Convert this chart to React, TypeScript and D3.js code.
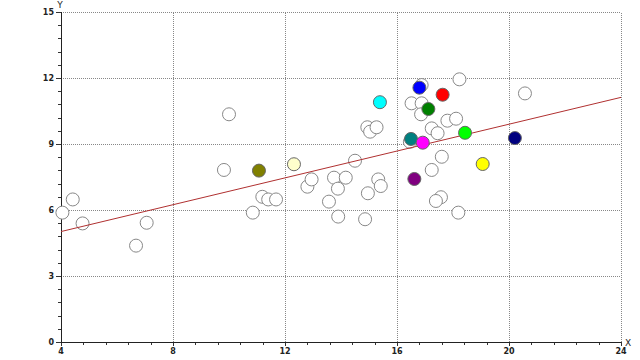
import React from "react";
import * as d3 from "d3";

const whiteX = [4.05, 4.42, 4.77, 6.68, 7.06, 9.82, 10.0, 10.85, 11.19, 11.4, 11.68, 12.8, 12.95, 13.57, 13.75, 13.89, 13.9, 14.17, 14.5, 14.86, 14.96, 14.94, 15.04, 15.27, 15.33, 15.42, 16.46, 16.52, 16.88, 16.86, 16.88, 17.24, 17.45, 17.8, 18.11, 18.23, 17.6, 17.24, 17.57, 17.39, 18.19, 20.57];
const whiteY = [5.88, 6.48, 5.39, 4.38, 5.42, 7.82, 10.35, 5.88, 6.6, 6.48, 6.48, 7.06, 7.39, 6.38, 7.47, 6.97, 5.7, 7.47, 8.24, 5.58, 6.76, 9.76, 9.56, 9.76, 7.39, 7.09, 9.1, 10.85, 10.85, 10.35, 11.68, 9.71, 9.49, 10.06, 10.15, 11.94, 8.42, 7.82, 6.58, 6.41, 5.88, 11.3];

const colorX = [16.8, 17.63, 17.12, 18.43, 16.5, 16.92, 16.62, 19.06, 20.21, 15.39, 11.07, 12.32];
const colorY = [11.56, 11.24, 10.59, 9.51, 9.23, 9.06, 7.41, 8.09, 9.27, 10.9, 7.79, 8.08];
const colorFill = ["#0000ff", "#ff0000", "#008000", "#00ff00", "#008080", "#ff00ff", "#800080", "#ffff00", "#000080", "#00ffff", "#808000", "#ffffcc"];

const xTicks = [4, 8, 12, 16, 20, 24];
const yTicks = [0, 3, 6, 9, 12, 15];
const fitIntercept = 3.80;
const fitSlope = 0.305;

export default function App() {
  const W = 640, H = 360;
  const x = d3.scaleLinear().domain([4, 24]).range([61, 621]);
  const y = d3.scaleLinear().domain([0, 15]).range([342, 12]);
  const xMinor: number[] = [];
  for (let i = 0; i <= 25; i++) xMinor.push(4 + i * 0.8);
  const yMinor: number[] = [];
  for (let i = 0; i <= 25; i++) yMinor.push(i * 0.6);
  const font = "'DejaVu Sans', Verdana, sans-serif";
  const line = d3.line<number>().x((d) => x(d)).y((d) => y(fitIntercept + fitSlope * d));
  const r = 6.5;
  return (
    <svg width={W} height={H} style={{ position: "fixed", left: 0, top: 0, background: "#fff" }}>
      {xTicks.filter((t) => t > 4).map((t) => (
        <line key={"gx" + t} x1={x(t) + 0.5} x2={x(t) + 0.5} y1={y(0)} y2={y(15)} stroke="#888" strokeDasharray="1,1" shapeRendering="crispEdges" />
      ))}
      {yTicks.filter((t) => t > 0).map((t) => (
        <line key={"gy" + t} x1={x(4)} x2={x(24)} y1={y(t) + 0.5} y2={y(t) + 0.5} stroke="#888" strokeDasharray="1,1" shapeRendering="crispEdges" />
      ))}
      {xMinor.map((t, i) => (
        <line key={"mx" + i} x1={x(t) + 0.5} x2={x(t) + 0.5} y1={y(0)} y2={y(0) + (i % 5 === 0 ? 4 : 3)} stroke="#333" shapeRendering="crispEdges" />
      ))}
      {yMinor.map((t, i) => (
        <line key={"my" + i} x1={x(4) - (i % 5 === 0 ? 5 : 3)} x2={x(4)} y1={y(t) + 0.5} y2={y(t) + 0.5} stroke="#333" shapeRendering="crispEdges" />
      ))}
      <line x1={x(4) + 0.5} x2={x(4) + 0.5} y1={y(0)} y2={y(15)} stroke="#222" shapeRendering="crispEdges" />
      <line x1={x(4)} x2={x(24)} y1={y(0) + 0.5} y2={y(0) + 0.5} stroke="#222" shapeRendering="crispEdges" />
      {xTicks.map((t) => (
        <text key={"tx" + t} x={x(t)} y={354} fontSize={8} fontWeight="bold" fontFamily={font} textAnchor="middle" fill="#222">{t}</text>
      ))}
      {yTicks.map((t) => (
        <text key={"ty" + t} x={54} y={y(t) + 3} fontSize={8} fontWeight="bold" fontFamily={font} textAnchor="end" fill="#222">{t}</text>
      ))}
      <text x={60} y={8} fontSize={9} fontFamily={font} textAnchor="middle" fill="#222">Y</text>
      <text x={625} y={346} fontSize={9} fontFamily={font} fill="#222">X</text>
      {whiteX.map((v, i) => (
        <circle key={"w" + i} cx={x(v)} cy={y(whiteY[i])} r={r} fill="#fff" stroke="#888" strokeWidth={1} />
      ))}
      <path d={line([4, 24]) || ""} stroke="#b03030" strokeWidth={1} fill="none" />
      {colorX.map((v, i) => (
        <circle key={"c" + i} cx={x(v)} cy={y(colorY[i])} r={r} fill={colorFill[i]} stroke="#666" strokeWidth={1} />
      ))}
    </svg>
  );
}
